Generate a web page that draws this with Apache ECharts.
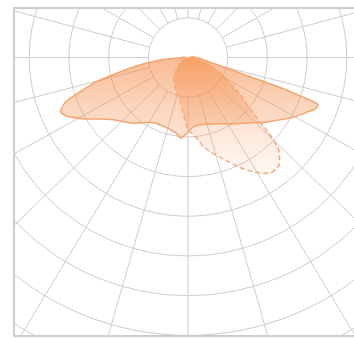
<!DOCTYPE html>
<html>
<head>
<meta charset="utf-8">
<script src="https://cdn.jsdelivr.net/npm/echarts@6/dist/echarts.min.js"></script>
<style>
  html, body { margin: 0; padding: 0; width: 354px; height: 338px; overflow: hidden; background: #fff; }
  #frame { position: absolute; left: 13px; top: 7px; width: 370px; height: 330px;
           border: 2px solid #cdcdcd; box-sizing: border-box; overflow: hidden; }
  #chart { width: 366px; height: 326px; }
</style>
</head>
<body>
<div id="frame"><div id="chart"></div></div>
<script>
// angles in degrees from nadir, positive to the left; intensities in cd
var anglesA = [100, 90, 85, 80, 75, 70, 67, 64, 60, 55, 50, 45, 40, 35, 30, 25, 20, 15, 10, 8, 5, 3, 1,
  -2, -5, -10, -15, -20, -25, -30, -35, -40, -45, -50, -55, -60, -65, -68, -70, -71, -72, -73, -76, -80, -85, -95, -110]
var valuesA = [8, 15, 71, 142, 242, 328, 349, 338, 308, 270, 244, 229, 216, 201, 188, 184, 184, 186, 191, 196, 204, 198, 191,
  181, 174, 172, 174, 178, 184, 193, 204, 216, 232, 254, 275, 303, 328, 346, 349, 305, 242, 153, 76, 46, 31, 15, 10]

var anglesB = [100, 70, 60, 55, 50, 45, 40, 35, 30, 25, 20, 15, 10, 5, 2, 0,
  -5, -10, -15, -20, -25, -30, -35, -40, -43, -45, -47, -50, -55, -60, -65, -70, -75, -80, -85, -95, -110]
var valuesB = [5, 10, 15, 23, 31, 38, 51, 64, 71, 79, 89, 99, 112, 140, 163, 183,
  198, 229, 252, 275, 305, 333, 356, 356, 338, 321, 275, 209, 158, 117, 87, 64, 43, 28, 18, 10, 8]

// grid: rings every 100 cd, radial lines
var ringMin = 100
var ringMax = 900
var ringStep = 100
var gridAngles = [-180, -165, -150, -135, -120, -105, -90, -75.5, -61, -46, -31, -16, 0,
  16, 31, 46, 61, 75.5, 90, 105, 120, 135, 150, 165, 180]

function pairs(angles, values) {
  return angles.map(function (a, i) { return [values[i], a] })
}

var chart = echarts.init(document.getElementById('chart'))
var center = [173, 48.5]
var outer = 357.3
var hiddenAxis = { axisLine: { show: false }, axisTick: { show: false }, axisLabel: { show: false }, splitLine: { show: false } }

chart.setOption({
  animation: false,
  polar: [
    { center: center, radius: [outer / 9, outer] },
    { center: center, radius: [0, outer] }
  ],
  radiusAxis: [
    { polarIndex: 0, type: 'value', min: ringMin, max: ringMax, interval: ringStep,
      axisLine: { show: false }, axisTick: { show: false }, axisLabel: { show: false },
      splitLine: { show: true, lineStyle: { color: '#cccccc', width: 1 } } },
    Object.assign({ polarIndex: 1, type: 'value', min: 0, max: ringMax }, hiddenAxis)
  ],
  angleAxis: [
    { polarIndex: 0, type: 'value', min: -180, max: 180, interval: 15, startAngle: 90, clockwise: true,
      axisLine: { show: false },
      axisTick: { show: false, customValues: gridAngles },
      axisLabel: { show: false, customValues: gridAngles },
      splitLine: { show: true, lineStyle: { color: '#cccccc', width: 1 } } },
    Object.assign({ polarIndex: 1, type: 'value', min: -180, max: 180, startAngle: 90, clockwise: true }, hiddenAxis)
  ],
  series: [
    {
      name: 'C0-C180',
      type: 'line',
      coordinateSystem: 'polar',
      polarIndex: 1,
      data: pairs(anglesA, valuesA),
      symbol: 'none',
      smooth: 0.2,
      lineStyle: { color: '#f7a46c', width: 1.5 },
      areaStyle: {
        color: new echarts.graphic.LinearGradient(0, 0, 0, 1, [
          { offset: 0, color: 'rgba(243,135,62,0.82)' },
          { offset: 1, color: 'rgba(246,160,105,0.42)' }
        ])
      }
    },
    {
      name: 'C90-C270',
      type: 'line',
      coordinateSystem: 'polar',
      polarIndex: 1,
      data: pairs(anglesB, valuesB),
      symbol: 'none',
      smooth: 0.2,
      lineStyle: { color: '#f8a877', width: 1.5, type: [5, 3] },
      areaStyle: {
        color: new echarts.graphic.LinearGradient(0, 0, 0, 1, [
          { offset: 0, color: 'rgba(243,135,62,0.75)' },
          { offset: 1, color: 'rgba(248,175,130,0.15)' }
        ])
      }
    }
  ]
})
</script>
</body>
</html>
